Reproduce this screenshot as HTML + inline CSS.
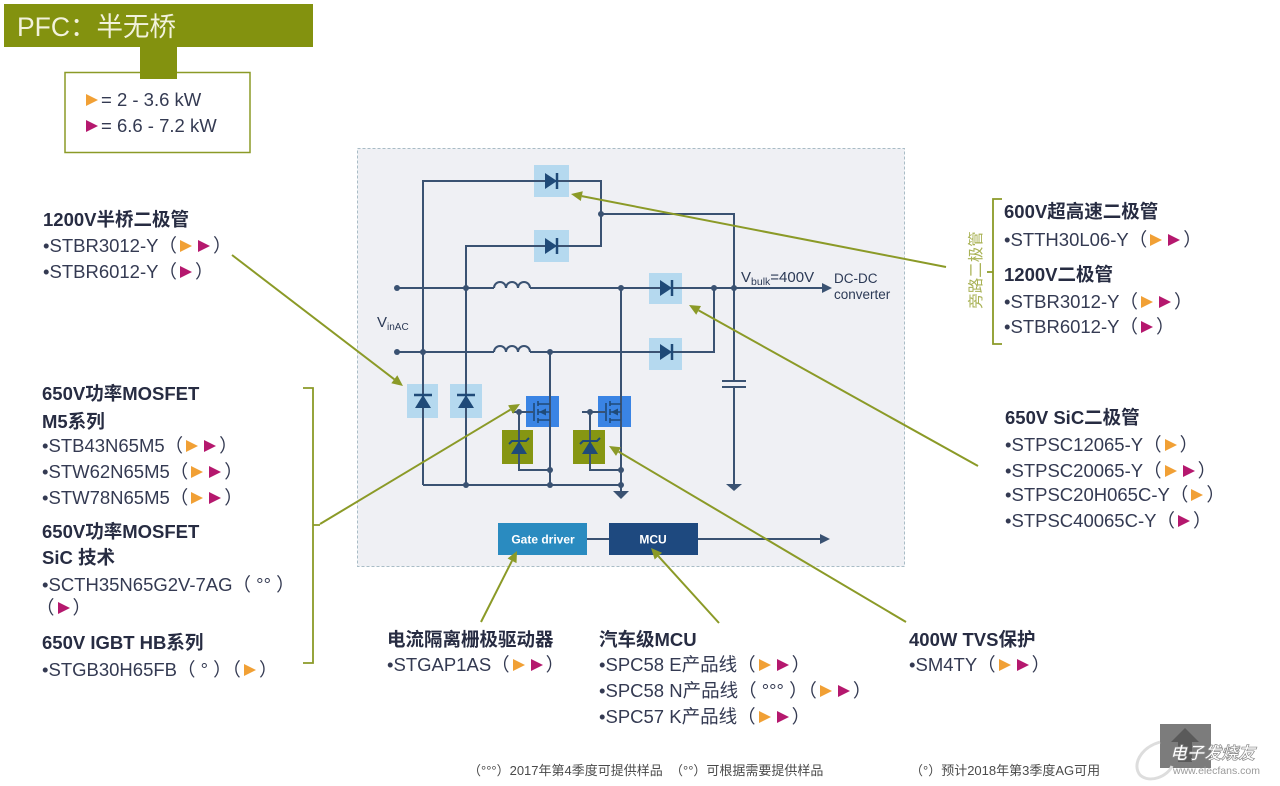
<!DOCTYPE html>
<html><head><meta charset="utf-8">
<style>
html,body{margin:0;padding:0;background:#fff;}
#wrap{position:relative;width:1280px;height:786px;overflow:hidden;background:#fff;}
svg{position:absolute;left:0;top:0;display:block;}
svg text{font-family:"Liberation Sans","Noto Sans CJK SC",sans-serif;}
.ln{position:absolute;white-space:nowrap;font-family:"Liberation Sans","Noto Sans CJK SC",sans-serif;font-size:18.5px;line-height:20px;color:#343a52;}
.b{font-weight:bold;color:#272c42;}
.o,.m{display:inline-block;width:0;height:0;border-top:6.5px solid transparent;border-bottom:6.5px solid transparent;border-left:12px solid;margin:0 3px;vertical-align:0;}
.o{border-left-color:#f1a035;}
.m{border-left-color:#b5186e;}
.ft{position:absolute;white-space:nowrap;font-family:"Liberation Sans","Noto Sans CJK SC",sans-serif;font-size:13px;line-height:14px;color:#4a4a4a;}
</style></head><body><div id="wrap">
<svg width="1280" height="786" viewBox="0 0 1280 786" xmlns="http://www.w3.org/2000/svg">
<!-- title -->
<rect x="4" y="4" width="309" height="43" fill="#83920f"/>
<rect x="65" y="72.5" width="185" height="80" fill="#fff" stroke="#8b9a27" stroke-width="1.5"/>
<rect x="140" y="45" width="37" height="34" fill="#83920f"/>

<!-- circuit frame -->
<rect x="357.5" y="148.5" width="547" height="418" fill="#eff0f4" stroke="#a9bcc6" stroke-dasharray="3 2"/>

<!-- light blue boxes -->
<g fill="#b5d9ef">
<rect x="534" y="165" width="35" height="32"/>
<rect x="534" y="230" width="35" height="32"/>
<rect x="649" y="273" width="33" height="31"/>
<rect x="649" y="338" width="33" height="32"/>
<rect x="407" y="384" width="31" height="34"/>
<rect x="450" y="384" width="32" height="34"/>
</g>
<g fill="#3a84e4">
<rect x="526" y="396" width="33" height="31"/>
<rect x="598" y="396" width="33" height="31"/>
</g>
<g fill="#869612">
<rect x="502" y="430" width="31" height="34"/>
<rect x="573" y="430" width="32" height="34"/>
</g>
<rect x="498" y="523" width="89" height="32" fill="#2a8bc0"/>
<rect x="609" y="523" width="89" height="32" fill="#1e497f"/>

<!-- wires -->
<g stroke="#3a5272" stroke-width="2" fill="none">
<path d="M423,485 V181 H601 V246 H466 V485"/>
<path d="M423,485 H621"/>
<path d="M601,214 H734 V381"/>
<path d="M734,387 V485"/>
<path d="M397,288 H494 M530,288 H824"/>
<path d="M494,288 a6,6 0 0 1 12,0 a6,6 0 0 1 12,0 a6,6 0 0 1 12,0"/>
<path d="M397,352 H494 M530,352 H714 V288"/>
<path d="M494,352 a6,6 0 0 1 12,0 a6,6 0 0 1 12,0 a6,6 0 0 1 12,0"/>
<path d="M550,352 V485"/>
<path d="M621,288 V491"/>
<path d="M512,412 H533 M519,412 V470 H550"/>
<path d="M582,412 H605 M590,412 V470 H621"/>
<path d="M587,539 H609"/>
<path d="M698,539 H822"/>
<path d="M722,381 H746 M722,387 H746"/>
</g>
<g fill="#3a5272">
<polygon points="822,283 832,288 822,293"/>
<polygon points="820,534 830,539 820,544"/>
<polygon points="726,484 742,484 734,491"/>
<polygon points="613,491 629,491 621,499"/>
<circle cx="601" cy="214" r="3"/>
<circle cx="397" cy="288" r="3"/>
<circle cx="466" cy="288" r="3"/>
<circle cx="621" cy="288" r="3"/>
<circle cx="714" cy="288" r="3"/>
<circle cx="734" cy="288" r="3"/>
<circle cx="397" cy="352" r="3"/>
<circle cx="423" cy="352" r="3"/>
<circle cx="550" cy="352" r="3"/>
<circle cx="466" cy="485" r="3"/>
<circle cx="550" cy="485" r="3"/>
<circle cx="621" cy="485" r="3"/>
<circle cx="550" cy="470" r="3"/>
<circle cx="621" cy="470" r="3"/>
<circle cx="519" cy="412" r="3"/>
<circle cx="590" cy="412" r="3"/>
</g>

<!-- diodes -->
<g fill="#1f4a78" stroke="#1f4a78">
<polygon points="545,173 545,189 557,181" stroke="none"/><path d="M557,173 V189" stroke-width="2.5"/>
<polygon points="545,238 545,254 557,246" stroke="none"/><path d="M557,238 V254" stroke-width="2.5"/>
<polygon points="660,280 660,296 672,288" stroke="none"/><path d="M672,280 V296" stroke-width="2.5"/>
<polygon points="660,344 660,360 672,352" stroke="none"/><path d="M672,344 V360" stroke-width="2.5"/>
<polygon points="415,408 431,408 423,395" stroke="none"/><path d="M414,395 H432" stroke-width="2.5"/>
<polygon points="458,408 474,408 466,395" stroke="none"/><path d="M457,395 H475" stroke-width="2.5"/>
<!-- TVS -->
<polygon points="511,454 527,454 519,441" stroke="none"/><path d="M509,444 L512,441 H526 L529,438" stroke-width="2" fill="none"/>
<polygon points="582,454 598,454 590,441" stroke="none"/><path d="M580,444 L583,441 H597 L600,438" stroke-width="2" fill="none"/>
</g>
<path d="M519,454 V470 M590,454 V470" stroke="#3a5272" stroke-width="2"/>
<!-- MOSFETs -->
<g stroke="#1f4a78" stroke-width="1.6" fill="none">
<path d="M534,403 V421 M538,401 V406 M538,409 V415 M538,418 V423 M538,404 H550 M538,420 H550 M538,412 H550"/>
<path d="M606,403 V421 M610,401 V406 M610,409 V415 M610,418 V423 M610,404 H621 M610,420 H621 M610,412 H621"/>
</g>
<g fill="#1f4a78">
<polygon points="539,412 546,408.5 546,415.5"/>
<polygon points="611,412 618,408.5 618,415.5"/>
</g>

<!-- circuit labels -->
<text x="741" y="282" font-size="15" fill="#2c3a56">V<tspan font-size="10.5" dy="3">bulk</tspan><tspan dy="-3">=400V</tspan></text>
<text x="834" y="283" font-size="13.5" fill="#2c3a56">DC-DC</text>
<text x="834" y="299" font-size="13.5" fill="#2c3a56">converter</text>
<text x="377" y="327" font-size="15" fill="#2c3a56">V<tspan font-size="10" dy="3">inAC</tspan></text>
<text x="543" y="543.5" text-anchor="middle" font-size="12" font-weight="bold" fill="#fff">Gate driver</text>
<text x="653" y="543.5" text-anchor="middle" font-size="12" font-weight="bold" fill="#fff">MCU</text>

<!-- brackets -->
<g stroke="#8b9a27" stroke-width="1.8" fill="none">
<path d="M303,388 H313 V663 H303 M313,525 H320"/>
<path d="M1002,199 H993 V344 H1002 M993,272 H987"/>
</g>
<text transform="translate(981,270) rotate(-90)" text-anchor="middle" font-size="15.5" fill="#a9b255">旁路二极管</text>

<!-- connectors -->
<g stroke="#8b9a27" stroke-width="2" fill="none">
<path d="M232,255 L394.3,379.3"/>
<path d="M320,524 L510.5,409.6"/>
<path d="M946,267 L581.8,196.1"/>
<path d="M978,466 L698.6,310.4"/>
<path d="M906,622 L618.5,451.6"/>
<path d="M481,622 L512,560.8"/>
<path d="M719,623 L658.4,556.2"/>
</g>
<g fill="#8b9a27">
<polygon points="403,386 391.3,383.3 397.3,375.3"/>
<polygon points="520,404 513.1,413.9 508,405.3"/>
<polygon points="571,194 582.8,191.2 580.8,201"/>
<polygon points="689,305 701,306 696.2,314.8"/>
<polygon points="609,446 621,447.3 616,455.9"/>
<polygon points="517,551 516.5,563.1 507.6,558.5"/>
<polygon points="651,548 662.1,552.8 654.7,559.5"/>
</g>

<!-- watermark logo -->
<rect x="1160" y="724" width="51" height="44" fill="#7c7c7c"/>
<polygon points="1185,728 1199,742 1192,742 1192,762 1178,762 1178,742 1171,742" fill="#5a5a5a"/>
<path d="M1160,742 C1140,748 1132,765 1140,775 C1150,784 1168,776 1172,766" stroke="#ddd" stroke-width="3" fill="none"/>
<text x="1170" y="759" font-size="17" font-style="italic" font-weight="bold" fill="#fff" stroke="#8a8a8a" stroke-width="0.7">电子发烧友</text>
<text x="1173" y="774" font-size="10.5" fill="#9a9a9a">www.elecfans.com</text>
</svg>

<div class="ln" style="left:17px;top:12px;font-size:26.5px;line-height:30px;color:#f2f2dc;">PFC：半无桥</div>

<div class="ln" style="left:86px;top:90px;"><span class="o" style="margin:0 3px 0 0"></span>= 2 - 3.6 kW</div>
<div class="ln" style="left:86px;top:116px;"><span class="m" style="margin:0 3px 0 0"></span>= 6.6 - 7.2 kW</div>

<!-- left group 1 -->
<div class="ln b" style="left:43px;top:210px;">1200V半桥二极管</div>
<div class="ln" style="left:43px;top:236px;">•STBR3012-Y（<span class="o"></span><span class="m"></span>）</div>
<div class="ln" style="left:43px;top:262px;">•STBR6012-Y（<span class="m"></span>）</div>

<!-- left group 2 -->
<div class="ln b" style="left:42px;top:384px;">650V功率MOSFET</div>
<div class="ln b" style="left:42px;top:412px;">M5系列</div>
<div class="ln" style="left:42px;top:436px;">•STB43N65M5（<span class="o"></span><span class="m"></span>）</div>
<div class="ln" style="left:42px;top:462px;">•STW62N65M5（<span class="o"></span><span class="m"></span>）</div>
<div class="ln" style="left:42px;top:488px;">•STW78N65M5（<span class="o"></span><span class="m"></span>）</div>
<div class="ln b" style="left:42px;top:522px;">650V功率MOSFET</div>
<div class="ln b" style="left:42px;top:548px;">SiC 技术</div>
<div class="ln" style="left:42px;top:575px;">•SCTH35N65G2V-7AG（ °° ）</div>
<div class="ln" style="left:36px;top:598px;">（<span class="m"></span>）</div>
<div class="ln b" style="left:42px;top:633px;">650V IGBT HB系列</div>
<div class="ln" style="left:42px;top:660px;">•STGB30H65FB（ ° ）（<span class="o"></span>）</div>

<!-- right group 1 -->
<div class="ln b" style="left:1004px;top:202px;">600V超高速二极管</div>
<div class="ln" style="left:1004px;top:230px;">•STTH30L06-Y（<span class="o"></span><span class="m"></span>）</div>
<div class="ln b" style="left:1004px;top:265px;">1200V二极管</div>
<div class="ln" style="left:1004px;top:292px;">•STBR3012-Y（<span class="o"></span><span class="m"></span>）</div>
<div class="ln" style="left:1004px;top:317px;">•STBR6012-Y（<span class="m"></span>）</div>

<!-- right group 2 -->
<div class="ln b" style="left:1005px;top:408px;">650V SiC二极管</div>
<div class="ln" style="left:1005px;top:435px;">•STPSC12065-Y（<span class="o"></span>）</div>
<div class="ln" style="left:1005px;top:461px;">•STPSC20065-Y（<span class="o"></span><span class="m"></span>）</div>
<div class="ln" style="left:1005px;top:485px;">•STPSC20H065C-Y（<span class="o"></span>）</div>
<div class="ln" style="left:1005px;top:511px;">•STPSC40065C-Y（<span class="m"></span>）</div>

<!-- bottom groups -->
<div class="ln b" style="left:387px;top:630px;">电流隔离栅极驱动器</div>
<div class="ln" style="left:387px;top:655px;">•STGAP1AS（<span class="o"></span><span class="m"></span>）</div>

<div class="ln b" style="left:599px;top:630px;">汽车级MCU</div>
<div class="ln" style="left:599px;top:655px;">•SPC58 E产品线（<span class="o"></span><span class="m"></span>）</div>
<div class="ln" style="left:599px;top:681px;">•SPC58 N产品线（ °°° ）（<span class="o"></span><span class="m"></span>）</div>
<div class="ln" style="left:599px;top:707px;">•SPC57 K产品线（<span class="o"></span><span class="m"></span>）</div>

<div class="ln b" style="left:909px;top:630px;">400W TVS保护</div>
<div class="ln" style="left:909px;top:655px;">•SM4TY（<span class="o"></span><span class="m"></span>）</div>

<!-- footer -->
<div class="ft" style="left:468px;top:764px;">（°°°）2017年第4季度可提供样品</div>
<div class="ft" style="left:670px;top:764px;">（°°）可根据需要提供样品</div>
<div class="ft" style="left:910px;top:764px;">（°）预计2018年第3季度AG可用</div>
</div></body></html>
